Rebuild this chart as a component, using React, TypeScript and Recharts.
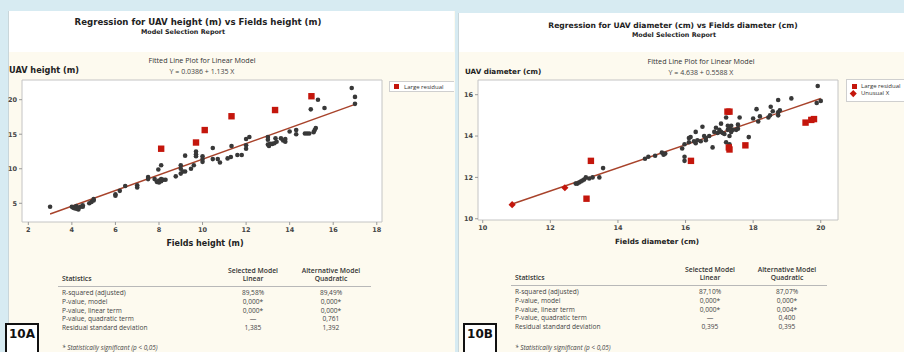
import React from "react";
import { ReferenceArea, ReferenceLine, Scatter, ScatterChart, XAxis, YAxis } from "recharts";

// 10A: UAV height vs fields height (m)
const heightPoints: [number, number][] = [
  [3.0, 4.5], [4.0, 4.5], [4.05, 4.4], [4.1, 4.3], [4.2, 4.6], [4.2, 4.2], [4.3, 4.4], [4.3, 4.1],
  [4.4, 4.5], [4.5, 4.7], [4.5, 4.5], [4.8, 5.0], [4.9, 5.2], [5.0, 5.6], [5.0, 5.4], [6.0, 6.3],
  [6.0, 6.1], [6.2, 6.8], [6.45, 7.5], [7.0, 7.6], [7.0, 7.3], [7.5, 8.8], [7.5, 8.5], [7.8, 8.5],
  [7.9, 8.1], [8.0, 8.0], [8.0, 8.3], [8.1, 8.2], [8.2, 8.4], [8.3, 8.4], [8.1, 8.5], [7.97, 9.9],
  [8.1, 10.5], [8.77, 8.9], [9.0, 10.5], [9.0, 10.0], [9.0, 9.3], [9.1, 9.6], [9.2, 11.9], [9.2, 9.6],
  [9.47, 10.0], [9.6, 10.5], [9.7, 12.5], [9.7, 12.1], [9.7, 11.8], [10.0, 11.8], [10.0, 11.4],
  [10.0, 11.0], [10.47, 13.0], [10.47, 11.4], [10.7, 11.4], [10.8, 10.9], [11.15, 11.5], [11.3, 11.7],
  [11.33, 13.3], [11.6, 12.0], [11.8, 12.0], [12.0, 12.9], [12.0, 13.4], [12.0, 14.3], [12.15, 14.6],
  [13.0, 14.6], [13.0, 14.2], [13.0, 13.5], [13.05, 13.3], [13.1, 13.6], [13.2, 13.6], [13.3, 13.7],
  [13.35, 14.4], [13.4, 13.9], [13.6, 14.4], [13.7, 14.1], [13.8, 13.9], [13.8, 14.3], [14.0, 15.4],
  [14.3, 15.6], [14.3, 15.0], [14.7, 15.1], [14.8, 15.1], [14.9, 15.1], [14.97, 18.6], [15.1, 15.3],
  [15.15, 15.6], [15.2, 15.9], [15.3, 20.0], [15.6, 18.8], [16.85, 21.7], [17.0, 20.4], [17.0, 19.4],
];
const heightLargeResidual: [number, number][] = [
  [8.1, 12.9], [9.7, 13.8], [10.1, 15.6], [11.33, 17.6], [13.33, 18.5], [15.0, 20.5],
];
const heightFit = { intercept: 0.0386, slope: 1.135, xFrom: 3.0, xTo: 17.0 };
const heightXTicks = [2, 4, 6, 8, 10, 12, 14, 16, 18];
const heightYTicks = [5, 10, 15, 20];

// 10B: UAV diameter vs fields diameter (cm)
const diamPoints: [number, number][] = [
  [12.75, 11.7], [12.8, 11.7], [12.85, 11.75], [12.9, 11.8], [12.95, 11.85], [13.0, 11.9], [13.05, 12.0],
  [13.15, 11.95], [13.25, 12.0], [13.45, 12.0], [13.56, 12.45], [14.8, 12.9], [14.9, 13.0], [15.1, 13.05],
  [15.3, 13.2], [15.4, 13.15], [15.35, 13.1], [15.9, 13.4], [15.97, 13.6], [15.97, 13.0], [15.97, 12.8],
  [16.1, 13.9], [16.15, 13.95], [16.1, 13.7], [16.25, 13.75], [16.3, 13.65], [16.3, 14.2], [16.35, 13.8],
  [16.45, 13.75], [16.5, 14.45], [16.55, 14.0], [16.6, 13.9], [16.6, 13.8], [16.7, 14.0], [16.8, 13.45],
  [16.85, 14.2], [16.9, 14.4], [16.95, 14.15], [17.0, 14.3], [17.05, 14.2], [17.05, 14.6], [17.1, 14.15],
  [17.15, 14.1], [17.2, 13.7], [17.2, 14.9], [17.25, 14.3], [17.25, 14.5], [17.3, 14.0], [17.3, 14.4],
  [17.3, 13.6], [17.35, 14.2], [17.35, 14.5], [17.4, 14.3], [17.5, 14.3], [17.55, 14.35], [17.55, 14.55],
  [17.6, 14.9], [17.87, 13.95], [18.0, 14.85], [18.1, 15.3], [18.15, 14.7], [18.2, 14.95], [18.45, 14.9],
  [18.5, 15.0], [18.52, 15.42], [18.58, 15.2], [18.74, 15.0], [18.74, 15.15], [18.79, 15.25],
  [18.74, 15.74], [19.13, 15.82], [19.91, 16.42], [19.88, 15.6], [20.0, 15.7],
];
const diamLargeResidual: [number, number][] = [
  [13.07, 10.97], [13.2, 12.8], [16.16, 12.8], [17.24, 15.18], [17.3, 15.18], [17.28, 13.45],
  [17.3, 13.35], [17.77, 13.55], [19.55, 14.65], [19.72, 14.78], [19.8, 14.82],
];
const diamUnusualX: [number, number][] = [
  [10.87, 10.68], [12.43, 11.5],
];
const diamFit = { intercept: 4.638, slope: 0.5588, xFrom: 10.87, xTo: 20.0 };
const diamXTicks = [10, 12, 14, 16, 18, 20];
const diamYTicks = [10, 12, 14, 16];

const statLabels = [
  "R-squared (adjusted)",
  "P-value, model",
  "P-value, linear term",
  "P-value, quadratic term",
  "Residual standard deviation",
];
const heightLinear = ["89,58%", "0,000*", "0,000*", "—", "1,385"];
const heightQuadratic = ["89,49%", "0,000*", "0,000*", "0,761", "1,392"];
const diamLinear = ["87,10%", "0,000*", "0,000*", "—", "0,395"];
const diamQuadratic = ["87,07%", "0,000*", "0,004*", "0,400", "0,395"];

const toXY = (pts: [number, number][]) => pts.map(([x, y]) => ({ x, y }));

const BLUE = "#d7ebf2";
const CREAM = "#fdfaef";
const DOT = "#383838";
const RED = "#c4160c";
const FIT = "#a8432b";
const TITLE_FONT = "'DejaVu Sans', Verdana, sans-serif";
const BODY_FONT = "'Open Sans', 'Noto Sans', sans-serif";

const dot = (p: any) => <circle cx={p.cx} cy={p.cy} r={2.3} fill={DOT} />;
const square = (p: any) => <rect x={p.cx - 3.2} y={p.cy - 3.2} width={6.4} height={6.4} fill={RED} />;
const diamond = (p: any) => (
  <polygon
    points={`${p.cx},${p.cy - 3.6} ${p.cx + 3.6},${p.cy} ${p.cx},${p.cy + 3.6} ${p.cx - 3.6},${p.cy}`}
    fill={RED}
  />
);

function Txt({
  x,
  y,
  size,
  children,
  align = "center",
  bold = false,
  italic = false,
  font = BODY_FONT,
  color = "#333",
  weight,
}: {
  x: number;
  y: number;
  size: number;
  children: React.ReactNode;
  align?: "center" | "left";
  bold?: boolean;
  italic?: boolean;
  font?: string;
  color?: string;
  weight?: number;
}) {
  return (
    <div
      style={{
        position: "absolute",
        left: x,
        top: y,
        transform: align === "center" ? "translate(-50%, -50%)" : "translate(0, -50%)",
        fontSize: size,
        lineHeight: 1,
        fontFamily: font,
        fontWeight: weight ?? (bold ? 700 : 400),
        fontStyle: italic ? "italic" : "normal",
        color,
        whiteSpace: "nowrap",
      }}
    >
      {children}
    </div>
  );
}

function FitPlot({
  points,
  large,
  unusual,
  fit,
  xTicks,
  yTicks,
  xDomain,
  yDomain,
  yAxisWidth,
  rightMargin,
  xAxisHeight,
}: {
  points: [number, number][];
  large: [number, number][];
  unusual?: [number, number][];
  fit: { intercept: number; slope: number; xFrom: number; xTo: number };
  xTicks: number[];
  yTicks: number[];
  xDomain: [number, number];
  yDomain: [number, number];
  yAxisWidth: number;
  rightMargin: number;
  xAxisHeight: number;
}) {
  const tickStyle = { fontSize: 6.5, fill: "#444", fontFamily: TITLE_FONT, fontWeight: 700 };
  return (
    <ScatterChart width={452} height={240} margin={{ top: 80, right: rightMargin, bottom: 0, left: 0 }}>
      <XAxis
        type="number"
        dataKey="x"
        domain={xDomain}
        ticks={xTicks}
        allowDataOverflow
        axisLine={false}
        tickSize={3}
        tickMargin={2}
        tickLine={{ stroke: "#999" }}
        tick={tickStyle}
        height={xAxisHeight}
      />
      <YAxis
        type="number"
        dataKey="y"
        domain={yDomain}
        ticks={yTicks}
        allowDataOverflow
        axisLine={false}
        tickSize={3}
        tickMargin={2}
        tickLine={{ stroke: "#999" }}
        tick={tickStyle}
        width={yAxisWidth}
      />
      <ReferenceArea
        x1={xDomain[0]}
        x2={xDomain[1]}
        y1={yDomain[0]}
        y2={yDomain[1]}
        fill="#ffffff"
        fillOpacity={1}
        stroke="#c4c4c4"
        strokeWidth={1}
      />
      <ReferenceLine
        segment={[
          { x: fit.xFrom, y: fit.intercept + fit.slope * fit.xFrom },
          { x: fit.xTo, y: fit.intercept + fit.slope * fit.xTo },
        ]}
        stroke={FIT}
        strokeWidth={1.4}
      />
      <Scatter data={toXY(points)} shape={dot} isAnimationActive={false} />
      <Scatter data={toXY(large)} shape={square} isAnimationActive={false} />
      {unusual && <Scatter data={toXY(unusual)} shape={diamond} isAnimationActive={false} />}
    </ScatterChart>
  );
}

function StatsTable({
  left,
  colA,
  colB,
  headerY,
  lineY,
  lineRight,
  firstRowY,
  rowStep,
  linear,
  quadratic,
  footY,
}: {
  left: number;
  colA: number;
  colB: number;
  headerY: number;
  lineY: number;
  lineRight: number;
  firstRowY: number;
  rowStep: number;
  linear: string[];
  quadratic: string[];
  footY: number;
}) {
  return (
    <>
      <Txt x={colA} y={headerY - 8} size={6.8} weight={600}>Selected Model</Txt>
      <Txt x={colA} y={headerY} size={6.8} weight={600}>Linear</Txt>
      <Txt x={colB} y={headerY - 8} size={6.8} weight={600}>Alternative Model</Txt>
      <Txt x={colB} y={headerY} size={6.8} weight={600}>Quadratic</Txt>
      <Txt x={left} y={headerY} size={6.8} weight={600} align="left">Statistics</Txt>
      <div
        style={{
          position: "absolute",
          left: left - 4,
          top: lineY,
          width: lineRight - left + 4,
          height: 1,
          background: "#b8b8b8",
        }}
      />
      {statLabels.map((s, i) => (
        <React.Fragment key={s}>
          <Txt x={left} y={firstRowY + i * rowStep} size={6.6} align="left" color="#444">{s}</Txt>
          <Txt x={colA} y={firstRowY + i * rowStep} size={6.6} color="#444">{linear[i]}</Txt>
          <Txt x={colB} y={firstRowY + i * rowStep} size={6.6} color="#444">{quadratic[i]}</Txt>
        </React.Fragment>
      ))}
      <Txt x={left} y={footY} size={6.4} italic align="left" color="#444">* Statistically significant (p &lt; 0,05)</Txt>
    </>
  );
}

function Tag({ x, y, label }: { x: number; y: number; label: string }) {
  return (
    <div
      style={{
        position: "absolute",
        left: x,
        top: y,
        width: 34,
        height: 40,
        boxSizing: "border-box",
        border: "2px solid #111",
        background: "#fff",
        paddingTop: 3,
        textAlign: "center",
        fontFamily: TITLE_FONT,
        fontWeight: 700,
        fontSize: 12,
        lineHeight: 1,
        color: "#111",
      }}
    >
      {label}
    </div>
  );
}

export default function App() {
  return (
    <div
      style={{
        position: "absolute",
        left: 0,
        top: 0,
        width: 904,
        height: 352,
        overflow: "hidden",
        background: BLUE,
      }}
    >
      {/* left panel */}
      <div style={{ position: "absolute", left: 8, top: 11, width: 446, height: 341, background: CREAM, borderLeft: "1px solid #c9d6da" }} />
      <div style={{ position: "absolute", left: 9, top: 11, width: 445, height: 41, background: "#fff" }} />
      {/* right panel */}
      <div style={{ position: "absolute", left: 458, top: 13, width: 446, height: 339, background: CREAM, borderLeft: "1px solid #c9d6da" }} />
      <div style={{ position: "absolute", left: 459, top: 13, width: 445, height: 39, background: "#fff" }} />

      {/* left texts */}
      <Txt x={198} y={22} size={8.6} font={TITLE_FONT} bold color="#222">
        Regression for UAV height (m) vs Fields height (m)
      </Txt>
      <Txt x={183} y={32} size={6.4} font={TITLE_FONT} bold color="#222">Model Selection Report</Txt>
      <Txt x={202} y={61} size={7.2} color="#333">Fitted Line Plot for Linear Model</Txt>
      <Txt x={202} y={71} size={7} color="#444">Y = 0.0386 + 1.135 X</Txt>
      <Txt x={9} y={70} size={8.2} font={TITLE_FONT} bold align="left" color="#222">UAV height (m)</Txt>
      <Txt x={205} y={244} size={8} font={TITLE_FONT} bold color="#222">Fields height (m)</Txt>

      {/* left legend, clipped by the panel edge */}
      <div style={{ position: "absolute", left: 389, top: 81, width: 65, height: 11, overflow: "hidden" }}>
        <div style={{ position: "absolute", left: 0, top: 0, width: 80, height: 11, boxSizing: "border-box", background: "#fff", border: "1px solid #cfcfcf" }} />
        <div style={{ position: "absolute", left: 5, top: 3, width: 5, height: 5, background: RED }} />
        <Txt x={15} y={5.5} size={6} align="left" color="#333">Large residual</Txt>
      </div>

      {/* right texts */}
      <Txt x={673} y={26} size={7.6} font={TITLE_FONT} bold color="#222">
        Regression for UAV diameter (cm) vs Fields diameter (cm)
      </Txt>
      <Txt x={674} y={35} size={6.4} font={TITLE_FONT} bold color="#222">Model Selection Report</Txt>
      <Txt x={701} y={62} size={7.2} color="#333">Fitted Line Plot for Linear Model</Txt>
      <Txt x={701} y={72} size={7} color="#444">Y = 4.638 + 0.5588 X</Txt>
      <Txt x={465} y={72} size={7.2} font={TITLE_FONT} bold align="left" color="#222">UAV diameter (cm)</Txt>
      <Txt x={657} y={242} size={7.2} font={TITLE_FONT} bold color="#222">Fields diameter (cm)</Txt>

      {/* right legend */}
      <div style={{ position: "absolute", left: 846, top: 79, width: 70, height: 21, background: "#fff", border: "1px solid #cfcfcf" }} />
      <div style={{ position: "absolute", left: 851.5, top: 83.5, width: 5, height: 5, background: RED }} />
      <Txt x={861} y={86} size={6} align="left" color="#333">Large residual</Txt>
      <div style={{ position: "absolute", left: 851, top: 90.5, width: 4.5, height: 4.5, background: RED, transform: "rotate(45deg)" }} />
      <Txt x={861} y={93} size={6} align="left" color="#333">Unusual X</Txt>

      {/* plots */}
      <div style={{ position: "absolute", left: 0, top: 0 }}>
        <FitPlot
          points={heightPoints}
          large={heightLargeResidual}
          fit={heightFit}
          xTicks={heightXTicks}
          yTicks={heightYTicks}
          xDomain={[1.71, 18.24]}
          yDomain={[2.29, 22.85]}
          yAxisWidth={22}
          rightMargin={70}
          xAxisHeight={18}
        />
      </div>
      <div style={{ position: "absolute", left: 452, top: 0 }}>
        <FitPlot
          points={diamPoints}
          large={diamLargeResidual}
          unusual={diamUnusualX}
          fit={diamFit}
          xTicks={diamXTicks}
          yTicks={diamYTicks}
          xDomain={[9.86, 20.51]}
          yDomain={[9.94, 16.71]}
          yAxisWidth={26}
          rightMargin={66}
          xAxisHeight={20}
        />
      </div>

      {/* tables */}
      <StatsTable
        left={62}
        colA={253}
        colB={331}
        headerY={279}
        lineY={286}
        lineRight={371}
        firstRowY={292.7}
        rowStep={8.9}
        linear={heightLinear}
        quadratic={heightQuadratic}
        footY={348}
      />
      <StatsTable
        left={515}
        colA={710}
        colB={787}
        headerY={278}
        lineY={285}
        lineRight={827}
        firstRowY={291.7}
        rowStep={8.9}
        linear={diamLinear}
        quadratic={diamQuadratic}
        footY={347.5}
      />

      <Tag x={5} y={323} label="10A" />
      <Tag x={463} y={323} label="10B" />
    </div>
  );
}
